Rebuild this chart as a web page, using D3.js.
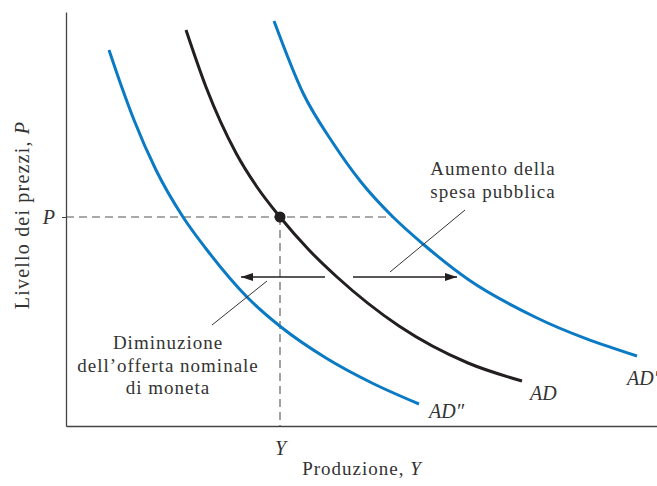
<!DOCTYPE html>
<html>
<head>
<meta charset="utf-8">
<script src="https://cdn.jsdelivr.net/npm/d3@7"></script>
<style>
  html, body { margin: 0; padding: 0; background: #fff; }
  svg { display: block; }
  text { font-family: "Liberation Serif", "Times New Roman", serif; fill: #333; }
</style>
</head>
<body>
<svg class="ad-chart"></svg>
<script>
// curves (output, price level), arbitrary units
AD_LOW_Y = [43, 55, 68, 90, 117, 141, 181, 215, 260, 306, 353];
AD_LOW_P = [376, 341, 306, 256, 209, 176, 129, 99, 68, 43, 22];

AD_MID_Y = [120, 140, 170, 191, 214, 243, 271, 333, 402, 456];
AD_MID_P = [396, 339, 273, 239, 209, 176, 149, 100, 63, 45];

AD_HIGH_Y = [208, 237, 267, 295, 327, 357, 403, 469, 571];
AD_HIGH_P = [405, 333, 283, 244, 209, 182, 146, 109, 70];

CURVE_LABELS = ["AD\u2033", "AD", "AD\u2032"];

EQ_Y = 214;
EQ_P = 209;

SHIFT_LEVEL = 149;
SHIFT_LEFT = [259, 175];
SHIFT_RIGHT = [287, 391];

WIDTH = 657;
HEIGHT = 486;
PLOT = {left: 66, right: 657, top: 12, bottom: 426};

BLUE = "#0a7ac4";
DARK = "#231f20";

function zip(xs, ys) {
    var out = [];
    for (i = 0; i < xs.length; i++) out.push({y: xs[i], p: ys[i]});
    return out;
}

function buildChart() {
    svg = d3.select(".ad-chart").attr("width", WIDTH).attr("height", HEIGHT);

    x = d3.scaleLinear().domain([0, 591]).range([PLOT.left, PLOT.right]);
    y = d3.scaleLinear().domain([0, 414]).range([PLOT.bottom, PLOT.top]);

    defs = svg.append("defs");
    defs.append("marker")
        .attr("id", "head")
        .attr("markerUnits", "userSpaceOnUse")
        .attr("markerWidth", 12)
        .attr("markerHeight", 8)
        .attr("refX", 12)
        .attr("refY", 4)
        .attr("orient", "auto")
        .append("path")
        .attr("d", "M0,0L12,4L0,8Z")
        .attr("fill", DARK);

    addGuides(svg, x, y);
    addAxes(svg, x, y);
    addCurves(svg, x, y);
    addShifts(svg, x, y);
    addNotes(svg);
}

function addAxes(svg, x, y) {
    yAxis = svg.append("g")
        .attr("transform", "translate(" + PLOT.left + ",0)")
        .call(d3.axisLeft(y).tickValues([EQ_P]).tickFormat(function() { return "P"; })
            .tickSize(4).tickSizeOuter(0).tickPadding(7));
    xAxis = svg.append("g")
        .attr("transform", "translate(0," + PLOT.bottom + ")")
        .call(d3.axisBottom(x).tickValues([EQ_Y]).tickFormat(function() { return "Y"; })
            .tickSize(0).tickSizeOuter(0).tickPadding(15));

    [xAxis, yAxis].forEach(function(a) {
        a.select(".domain").attr("stroke", "#444").attr("stroke-width", 1.3);
        a.selectAll(".tick line").attr("stroke", "#444");
        a.selectAll(".tick text")
            .attr("fill", "#333")
            .style("font-family", "Liberation Serif")
            .style("font-size", "20px")
            .style("font-style", "italic");
    });

    yl = svg.append("text")
        .attr("transform", "translate(29,215) rotate(-90)")
        .attr("text-anchor", "middle")
        .style("font-size", "20px")
        .style("letter-spacing", "1.2px");
    yl.append("tspan").text("Livello dei prezzi, ");
    yl.append("tspan").style("font-style", "italic").text("P");

    xl = svg.append("text")
        .attr("x", 362)
        .attr("y", 475)
        .attr("text-anchor", "middle")
        .style("font-size", "19px")
        .style("letter-spacing", "1px");
    xl.append("tspan").text("Produzione, ");
    xl.append("tspan").style("font-style", "italic").text("Y");
}

function addGuides(svg, x, y) {
    g = svg.append("g")
        .attr("stroke", "#555")
        .attr("stroke-width", 1.1)
        .attr("stroke-dasharray", "8,5");
    g.append("line")
        .attr("x1", x(0)).attr("x2", x(327))
        .attr("y1", y(EQ_P)).attr("y2", y(EQ_P));
    g.append("line")
        .attr("x1", x(EQ_Y)).attr("x2", x(EQ_Y))
        .attr("y1", y(EQ_P)).attr("y2", y(0));
}

function addCurves(svg, x, y) {
    line = d3.line()
        .x(function(d) { return x(d.y); })
        .y(function(d) { return y(d.p); })
        .curve(d3.curveMonotoneX);

    curves = [
        {pts: zip(AD_LOW_Y, AD_LOW_P), color: BLUE, label: CURVE_LABELS[0], dx: 10, dy: 14},
        {pts: zip(AD_MID_Y, AD_MID_P), color: DARK, label: CURVE_LABELS[1], dx: 8, dy: 19},
        {pts: zip(AD_HIGH_Y, AD_HIGH_P), color: BLUE, label: CURVE_LABELS[2], dx: -10, dy: 29}
    ];

    curves.forEach(function(c) {
        svg.append("path")
            .datum(c.pts)
            .attr("fill", "none")
            .attr("stroke", c.color)
            .attr("stroke-width", 3)
            .attr("stroke-linecap", "butt")
            .attr("d", line);
        last = c.pts[c.pts.length - 1];
        svg.append("text")
            .attr("x", x(last.y) + c.dx)
            .attr("y", y(last.p) + c.dy)
            .style("font-size", "20px")
            .style("font-style", "italic")
            .text(c.label);
    });

    svg.append("circle")
        .attr("cx", x(EQ_Y))
        .attr("cy", y(EQ_P))
        .attr("r", 5.5)
        .attr("fill", DARK);
}

function addShifts(svg, x, y) {
    [SHIFT_LEFT, SHIFT_RIGHT].forEach(function(s) {
        svg.append("line")
            .attr("x1", x(s[0])).attr("x2", x(s[1]))
            .attr("y1", y(SHIFT_LEVEL)).attr("y2", y(SHIFT_LEVEL))
            .attr("stroke", DARK)
            .attr("stroke-width", 1.3)
            .attr("marker-end", "url(#head)");
    });

    // leader lines to the notes
    leaders = [[399, 216, 324, 154], [201, 145, 146, 101]];
    leaders.forEach(function(l) {
        svg.append("line")
            .attr("x1", x(l[0])).attr("y1", y(l[1]))
            .attr("x2", x(l[2])).attr("y2", y(l[3]))
            .attr("stroke", "#333")
            .attr("stroke-width", 1);
    });
}

function addNotes(svg) {
    notes = [
        {x: 493, y: 175, lines: ["Aumento della", "spesa pubblica"]},
        {x: 168, y: 349, lines: ["Diminuzione", "dell\u2019offerta nominale", "di moneta"]}
    ];
    notes.forEach(function(n) {
        t = svg.append("text")
            .attr("text-anchor", "middle")
            .style("font-size", "19px")
            .style("letter-spacing", "1px");
        n.lines.forEach(function(s, i) {
            t.append("tspan").attr("x", n.x).attr("y", n.y + i * 22.5).text(s);
        });
    });
}

buildChart();
</script>
</body>
</html>
